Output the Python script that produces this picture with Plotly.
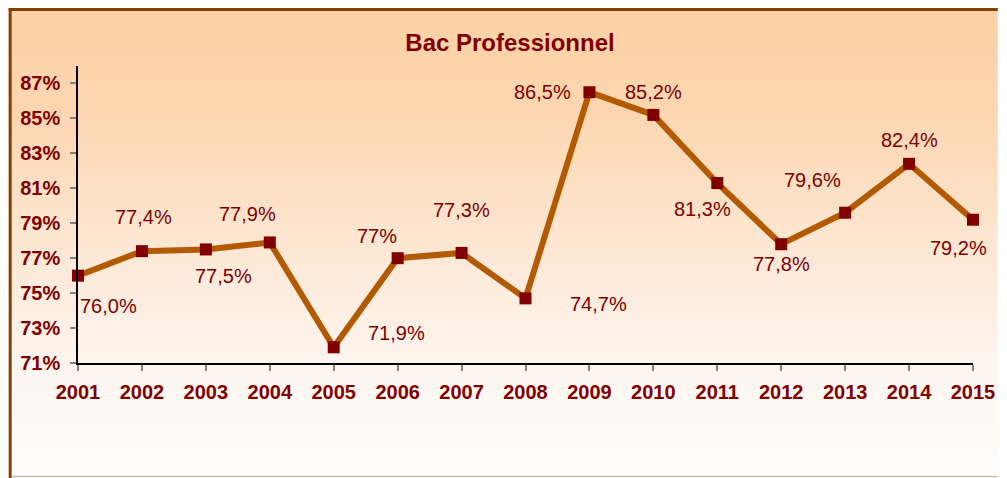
import plotly.graph_objects as go

years = list(range(2001, 2016))
taux = [76.0, 77.4, 77.5, 77.9, 71.9, 77.0, 77.3, 74.7, 86.5, 85.2, 81.3, 77.8, 79.6, 82.4, 79.2]
etiquettes = ["76,0%", "77,4%", "77,5%", "77,9%", "71,9%", "77%", "77,3%", "74,7%",
              "86,5%", "85,2%", "81,3%", "77,8%", "79,6%", "82,4%", "79,2%"]
ytick_vals = [71, 73, 75, 77, 79, 81, 83, 85, 87]
ytick_text = ["71%", "73%", "75%", "77%", "79%", "81%", "83%", "85%", "87%"]

# label offsets in pixels (x, y) relative to each point
decalages = [(30, -30), (2, 34), (18, -27), (-22, 28), (63, 14), (-21, 22), (0, 43), (73, -6),
             (-47, 0), (0, 23), (-15, -26), (0, -20), (-33, 33), (0, 24), (-15, -28)]

# the page has an 8px body margin, so the figure starts at (8, 8)
OFF = 8
W, H = 1007 - OFF, 478 - OFF
ml, mr, mt, mb = 78 - OFF, 25, 66 - OFF, 115
pw, ph = W - ml - mr, H - mt - mb

def px_x(p):
    # p in page pixels
    return (p - OFF - ml) / pw

def px_y(p):
    return (H - mb - (p - OFF)) / ph

rouge = "#800000"
font = "Arial, Liberation Sans, sans-serif"

fig = go.Figure()
fig.add_trace(go.Scatter(
    x=years, y=taux, mode="lines+markers",
    line=dict(color="#B35A00", width=6),
    marker=dict(symbol="square", size=12, color=rouge),
    cliponaxis=False, hoverinfo="skip", showlegend=False))

for x, y, t, (dx, dy) in zip(years, taux, etiquettes, decalages):
    fig.add_annotation(x=x, y=y, text=t, showarrow=False, xshift=dx, yshift=dy,
                       font=dict(size=20, color=rouge, family=font))

# background gradient (peach to white), drawn with stripes
stops = [(0, (252, 208, 162)), (120, (253, 215, 178)), (240, (253, 230, 210)),
         (360, (254, 245, 238)), (478, (255, 253, 251))]
shapes = []
n = 80
for i in range(n):
    y0 = OFF + i * H / n
    y1 = OFF + (i + 1) * H / n
    ym = (y0 + y1) / 2
    for (a, ca), (b, cb) in zip(stops[:-1], stops[1:]):
        if a <= ym <= b:
            f = (ym - a) / (b - a)
            c = tuple(round(ca[k] + (cb[k] - ca[k]) * f) for k in range(3))
            break
    shapes.append(dict(type="rect", xref="paper", yref="paper", layer="below",
                       x0=px_x(OFF), x1=px_x(1007), y0=px_y(y1 + 0.5), y1=px_y(y0),
                       fillcolor="rgb(%d,%d,%d)" % c, line=dict(width=0)))
# frame
shapes.append(dict(type="line", xref="paper", yref="paper", x0=px_x(OFF), x1=px_x(1007),
                   y0=px_y(OFF + 1.5), y1=px_y(OFF + 1.5), line=dict(color="#824100", width=3)))
shapes.append(dict(type="line", xref="paper", yref="paper", x0=px_x(OFF + 1.5), x1=px_x(OFF + 1.5),
                   y0=px_y(OFF), y1=px_y(478), line=dict(color="#824100", width=3)))
shapes.append(dict(type="line", xref="paper", yref="paper", x0=px_x(OFF + 3), x1=px_x(1007),
                   y0=px_y(476.5), y1=px_y(476.5), line=dict(color="#C8BBA8", width=1.5)))

fig.update_layout(
    width=W, height=H,
    margin=dict(l=ml, r=mr, t=mt, b=mb),
    paper_bgcolor="white", plot_bgcolor="rgba(0,0,0,0)",
    shapes=shapes,
    title=dict(text="<b>Bac Professionnel</b>", x=(510 - OFF) / W, xanchor="center",
               y=1 - (43 - OFF) / H, yanchor="middle",
               font=dict(size=24, color=rouge, family=font)),
    xaxis=dict(range=[2001, 2015], tickvals=years, ticktext=["<b>%d</b>" % a for a in years],
               showgrid=False, zeroline=False, showline=True, linecolor="black", linewidth=1.5,
               ticks="outside", ticklen=6, tickcolor="#808080", tickwidth=1.5,
               tickfont=dict(size=20, color=rouge, family=font), ticklabelstandoff=4),
    yaxis=dict(range=[71, 88], tickvals=ytick_vals, ticktext=["<b>%s</b>" % t for t in ytick_text],
               showgrid=False, zeroline=False, showline=True, linecolor="black", linewidth=1.5,
               ticks="outside", ticklen=6, tickcolor="#808080", tickwidth=1.5,
               tickfont=dict(size=20, color=rouge, family=font), ticklabelstandoff=6),
)

fig.write_html("out.html")
